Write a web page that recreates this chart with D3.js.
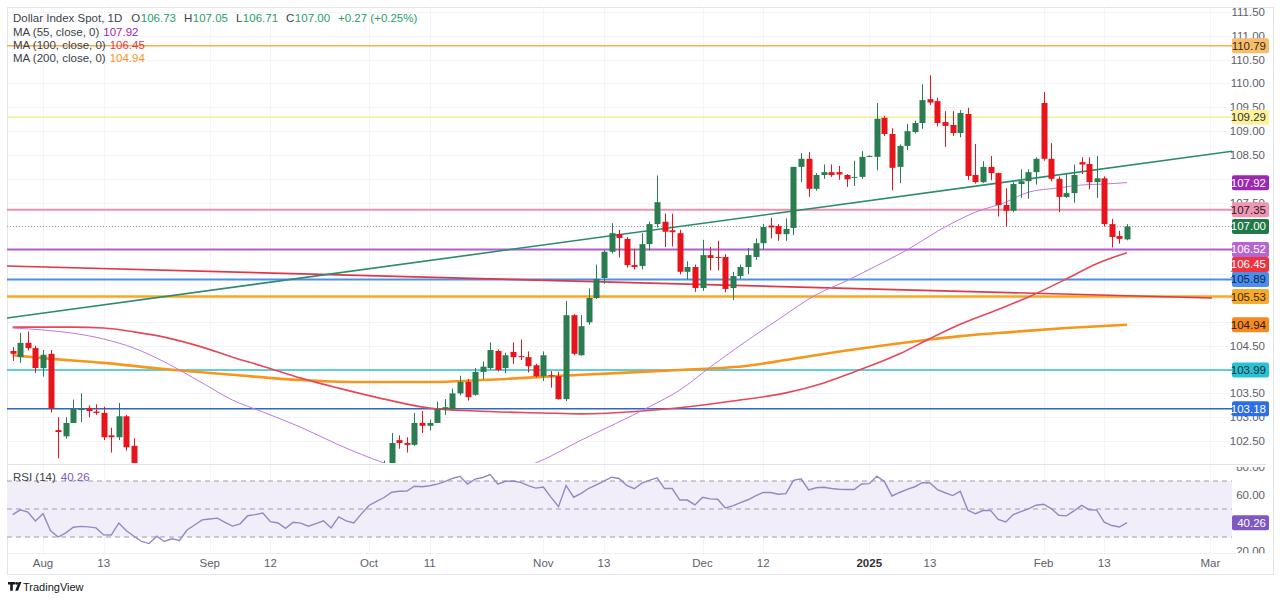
<!DOCTYPE html>
<html><head><meta charset="utf-8">
<script src="https://cdn.jsdelivr.net/npm/d3@7"></script>
<style>body{margin:0;background:#fff}svg{display:block;font-family:"Liberation Sans Narrow","Liberation Sans",sans-serif}</style>
</head><body><svg id="c" width="1280" height="600"></svg>
<script>
// ---------- DATA ----------
// daily candles [open, high, low, close], one per weekday from 2024-07-26 to 2025-02-18
const candles = [
[104.39,104.47,104.18,104.33],[104.26,104.77,104.14,104.56],[104.56,104.80,104.40,104.45],[104.45,104.50,103.93,104.03],
[104.03,104.41,103.85,104.31],[104.33,104.41,103.10,103.19],[102.73,103.00,102.14,102.69],[102.60,103.00,102.55,102.88],
[102.88,103.37,102.88,103.17],[103.15,103.50,102.90,103.18],[103.19,103.25,103.00,103.13],[103.12,103.27,103.05,103.09],
[103.09,103.22,102.52,102.58],[102.62,102.78,102.26,102.58],[102.58,103.30,102.52,103.02],[103.02,103.05,102.30,102.37],
[102.40,102.56,101.81,101.88],[101.88,101.95,101.30,101.43],[101.43,101.75,100.92,101.09],[101.09,101.60,101.05,101.50],
[101.50,101.55,100.60,100.68],[100.68,100.95,100.57,100.86],[100.86,100.94,100.44,100.54],[100.54,101.15,100.50,101.09],
[101.09,101.40,100.80,101.35],[101.35,101.75,101.24,101.70],[101.70,101.77,101.55,101.63],[101.63,101.90,101.60,101.84],
[101.84,101.86,101.27,101.35],[101.35,101.40,100.95,101.10],[101.10,101.40,100.68,101.18],[101.18,101.67,101.15,101.63],
[101.63,101.73,101.40,101.63],[101.63,101.83,101.24,101.68],[101.68,101.80,101.30,101.37],[101.37,101.50,100.94,101.11],
[101.11,101.15,100.70,100.76],[100.76,101.03,100.60,100.89],[100.89,101.00,100.21,100.60],[100.60,101.00,100.36,100.63],
[100.63,100.90,100.45,100.72],[100.72,101.07,100.60,100.85],[100.85,100.93,100.20,100.35],[100.35,101.00,100.30,100.90],
[100.90,100.93,100.38,100.53],[100.53,100.72,100.16,100.38],[100.38,100.90,100.16,100.78],[100.78,101.30,100.75,101.20],
[101.20,101.76,101.15,101.68],[101.68,102.09,101.60,101.99],[101.99,102.67,101.92,102.46],[102.52,102.62,102.34,102.46],
[102.46,102.58,102.26,102.42],[102.42,103.09,102.40,102.88],[102.88,103.13,102.67,102.82],[102.82,102.95,102.72,102.88],
[102.88,103.33,102.88,103.17],[103.17,103.38,103.05,103.21],[103.17,103.60,103.15,103.50],[103.50,103.87,103.46,103.74],
[103.74,103.80,103.35,103.42],[103.47,104.03,103.45,103.95],[103.95,104.17,103.80,104.06],[104.03,104.57,104.00,104.41],
[104.39,104.42,103.96,103.99],[104.03,104.35,103.92,104.30],[104.37,104.57,104.12,104.26],[104.28,104.63,104.20,104.26],
[104.26,104.38,103.94,104.07],[104.09,104.12,103.83,103.86],[103.86,104.38,103.76,104.30],[103.88,103.97,103.62,103.86],
[103.86,103.95,103.37,103.38],[103.38,105.44,103.34,105.14],[105.14,105.16,104.30,104.33],[104.30,105.14,104.29,104.91],
[104.99,105.70,104.94,105.50],[105.50,106.20,105.48,105.90],[105.92,106.51,105.80,106.47],[106.47,107.07,106.44,106.86],
[106.84,106.93,106.35,106.76],[106.74,106.78,106.14,106.19],[106.19,106.53,106.10,106.15],[106.17,106.86,106.10,106.63],
[106.63,107.10,106.50,107.05],[107.05,108.07,106.98,107.51],[107.10,107.27,106.57,106.89],[106.92,107.27,106.58,106.88],
[106.86,106.93,106.00,106.05],[106.05,106.27,105.89,106.15],[106.15,106.20,105.63,105.71],[105.71,106.72,105.65,106.40],
[106.40,106.57,106.08,106.34],[106.36,106.70,106.08,106.34],[106.36,106.42,105.62,105.69],[105.71,106.05,105.46,105.96],
[105.96,106.20,105.90,106.15],[106.15,106.55,106.00,106.40],[106.36,106.75,106.30,106.65],[106.65,107.05,106.52,106.99],
[107.02,107.18,106.75,106.98],[107.01,107.05,106.70,106.84],[106.84,107.17,106.70,106.95],[106.97,108.25,106.82,108.25],
[108.25,108.54,107.93,108.42],[108.42,108.56,107.62,107.79],[107.79,108.12,107.75,108.08],[108.08,108.30,108.00,108.14],
[108.14,108.30,108.04,108.08],[108.14,108.27,107.98,108.09],[108.08,108.10,107.83,107.99],[108.02,108.38,107.85,108.04],
[108.04,108.58,108.00,108.46],[108.48,108.49,108.47,108.48],[108.46,109.59,108.18,109.26],[109.28,109.32,108.90,108.94],
[108.94,109.06,107.76,108.23],[108.25,108.72,107.91,108.69],[108.69,109.15,108.60,109.00],[108.98,109.22,108.95,109.17],
[109.17,109.98,109.05,109.65],[109.67,110.17,109.55,109.60],[109.63,109.70,109.10,109.17],[109.19,109.42,108.67,109.11],
[109.13,109.42,108.90,108.96],[108.96,109.44,108.87,109.38],[109.36,109.49,107.98,108.06],[108.08,108.73,107.90,107.93],
[107.93,108.37,107.91,108.25],[108.25,108.48,107.97,108.12],[108.12,108.13,107.21,107.45],[107.45,107.80,107.00,107.33],
[107.33,107.93,107.30,107.89],[107.89,108.20,107.60,107.95],[107.95,108.20,107.58,108.14],[108.14,108.45,107.88,108.42],
[109.59,109.82,108.38,108.42],[108.42,108.75,107.95,108.00],[108.00,108.05,107.30,107.62],[107.62,108.10,107.60,107.70],
[107.70,108.30,107.50,108.08],[108.35,108.45,108.10,108.30],[108.31,108.45,107.78,107.93],[107.93,108.48,107.60,108.01],
[108.01,108.05,107.00,107.05],[107.05,107.16,106.56,106.78],[106.80,106.91,106.64,106.74],[106.73,107.05,106.71,107.00]
];
// RSI(14), one value per candle
const rsi = [46,49.4,47.8,41.5,46.6,34.4,30,33,37,37.6,37.2,36.5,31.5,31.4,40,34.5,30.5,26.8,25.3,30.6,
26.8,28.7,27.5,35,38.6,42.2,42.9,43.5,40.5,37.8,39.4,45.2,46,47.1,41,40,36.2,40.5,39.9,37.7,
39.6,41.6,36.5,44.4,41.5,40,46.5,52.5,55.4,58.2,62,62.7,62.8,66.3,65.9,66.6,67.8,69.5,71.8,73.3,
67.8,71.3,72.5,74.6,67.8,69.8,70,69,66.7,64.9,65.7,58.5,51.7,66.8,58.4,61.2,64.8,67.3,69.9,72.7,
71.8,66.8,64.5,68.5,70.5,72.3,64.6,64.6,56.4,56.4,52.9,58.3,57.2,57,50.8,52.2,54.5,56.6,59.3,61.8,
61.8,60.5,61,70.5,71.6,63.6,65.2,65.5,64.6,64.1,63.9,63.9,67.9,68.1,73.5,69.6,59.3,61.8,64,65.9,
68.8,68.6,63.8,61.6,59.6,62.6,49.2,46.6,48.9,49,42.5,40.7,46,48.1,50.1,52.7,53.4,50.3,45.5,45.1,
48.6,52.6,49.5,49.2,40.6,38.2,37.1,40.26];
// moving averages read at bar numbers [bar, value]
const ma55 = [[0,104.87],[4,104.83],[12,104.64],[16,104.45],[20,104.16],[25,103.72],[29,103.36],[33,103.11],[38,102.79],[43,102.42],[49,102.04],[55,101.75],[59,101.68],[63,101.78],[69,102.04],[75,102.52],[84,103.22],[88,103.57],[92,104.05],[97,104.62],[101,105.05],[106,105.57],[110,105.86],[114,106.18],[118,106.51],[122,106.9],[127,107.3],[131,107.51],[134,107.72],[138,107.81],[141,107.87],[144,107.89],[147,107.92]];
const ma100 = [[0,104.89],[8,104.89],[12,104.87],[16,104.79],[20,104.68],[25,104.47],[29,104.26],[33,104.07],[38,103.82],[43,103.61],[49,103.38],[55,103.19],[61,103.13],[70,103.09],[75,103.07],[83,103.13],[88,103.2],[95,103.34],[102,103.51],[107,103.72],[111,103.95],[117,104.33],[121,104.65],[125,104.95],[130,105.26],[134,105.52],[139,105.9],[143,106.22],[147,106.45]];
const ma200 = [[0,104.30],[4,104.24],[12,104.14],[20,104.01],[29,103.89],[38,103.78],[45,103.74],[55,103.74],[62,103.78],[75,103.89],[88,103.99],[97,104.08],[102,104.2],[110,104.4],[116,104.53],[121,104.63],[125,104.70],[132,104.79],[139,104.87],[147,104.94]];
const trendUp = [[-0.75,105.08],[160.9,108.58]];
const trendDown = [[-0.75,106.17],[158.2,105.50]];
const levelPrices = [110.79,109.29,107.35,106.52,105.89,105.53,103.99,103.18];
const lastClose = 107.00;
const maLast = [107.92,106.45,104.94];
const priceTicks = d3.range(102.5,111.51,0.5);
const rsiTicks = [80,60,20];
const rsiBands = [70,50,30];
const xTickLabels = ["Aug","13","Sep","12","Oct","11","Nov","13","Dec","12","2025","13","Feb","13","Mar"];
const xTickBars = [4,12,26,34,47,55,70,78,91,99,113,121,136,144,158];
const legendOHLC = [["O","106.73"],["H","107.05"],["L","106.71"],["C","107.00"]];
const legendChange = "+0.27 (+0.25%)";

// ---------- STYLES ----------
const UP="#2a7d50", DN="#e8141c";
const levelStyle = {
 110.79:{line:"#f5b04f",w:1.5,box:"#f7bd6e",txt:"#3a2a10"},
 109.29:{line:"#f4ef92",w:1.5,box:"#fdf29a",txt:"#333"},
 107.35:{line:"#ef8fb0",w:2,box:"#f096b5",txt:"#2a1a20"},
 106.52:{line:"#b45fcf",w:2,box:"#b566d3",txt:"#fff"},
 105.89:{line:"#4b8fe6",w:2,box:"#4a90ea",txt:"#10204a"},
 105.53:{line:"#f7a823",w:2.5,box:"#f8aa2a",txt:"#3a2a00"},
 103.99:{line:"#2cc0d0",w:1.5,box:"#28c2d4",txt:"#0a2f35"},
 103.18:{line:"#2f67c8",w:1.5,box:"#2d6ee6",txt:"#fff"}
};
const maStyle = [{c:"#bd78e0",w:1,box:"#9c27b0",txt:"#fff"},{c:"#e8475a",w:1.6,box:"#ee3340",txt:"#fff"},{c:"#f7961c",w:2.6,box:"#f78a1e",txt:"#2a1a00"}];

// ---------- LAYOUT ----------
const paneL=7, paneR=1232, mainT=7, mainB=463, rsiT=464, rsiB=555, axisR=1273, frameB=574;
const svg = d3.select("#c");
const x = d3.scaleLinear().domain([0,147]).range([12.7,1127]);
const y = d3.scaleLinear().domain([102.04,111.75]).range([463,0]);
const yr = d3.scaleLinear().domain([60,20]).range([495,551]);

const defs = svg.append("defs");
defs.append("clipPath").attr("id","cm").append("rect").attr("x",paneL).attr("y",mainT).attr("width",paneR-paneL).attr("height",mainB-mainT);
defs.append("clipPath").attr("id","cr").append("rect").attr("x",paneL).attr("y",rsiT).attr("width",paneR-paneL).attr("height",rsiB-rsiT);
defs.append("clipPath").attr("id","cra").append("rect").attr("x",paneR).attr("y",467).attr("width",axisR-paneR).attr("height",86);

// frame
svg.append("rect").attr("x",paneL+0.5).attr("y",mainT+0.5).attr("width",axisR-paneL).attr("height",frameB-mainT).attr("fill","#fff").attr("stroke","#e3e5ea");
// grid
const grid = svg.append("g").attr("stroke","#f3f4f7").attr("stroke-width",1);
grid.selectAll(".gh").data(priceTicks).join("line").attr("x1",paneL).attr("x2",paneR).attr("y1",d=>Math.round(y(d))+0.5).attr("y2",d=>Math.round(y(d))+0.5);
grid.selectAll(".gv").data(xTickBars).join("line").attr("y1",mainT).attr("y2",rsiB).attr("x1",d=>Math.round(x(d))+0.5).attr("x2",d=>Math.round(x(d))+0.5);
svg.append("line").attr("x1",paneL).attr("x2",1266).attr("y1",rsiT+0.5).attr("y2",rsiT+0.5).attr("stroke","#e0e3eb");
svg.append("line").attr("x1",paneL).attr("x2",1266).attr("y1",rsiB-1.5).attr("y2",rsiB-1.5).attr("stroke","#eef0f3");

// ---------- MAIN PANE ----------
const gm = svg.append("g").attr("clip-path","url(#cm)");
const lineK = d3.line().x(d=>x(d[0])).y(d=>y(d[1]));
levelPrices.forEach(p=>{
  const s=levelStyle[p];
  gm.append("line").attr("x1",paneL).attr("x2",paneR).attr("y1",y(p)).attr("y2",y(p)).attr("stroke",s.line).attr("stroke-width",s.w);
});
gm.append("line").attr("x1",paneL).attr("x2",paneR).attr("y1",y(lastClose)).attr("y2",y(lastClose)).attr("stroke","#9aa0a6").attr("stroke-width",1).attr("stroke-dasharray","1 2");
gm.append("path").datum(trendDown).attr("d",lineK).attr("stroke","#e0384a").attr("stroke-width",1.6).attr("fill","none");
gm.append("path").datum(trendUp).attr("d",lineK).attr("stroke","#2b8a72").attr("stroke-width",1.6).attr("fill","none");
const maCurve = d3.line().x(d=>x(d[0])).y(d=>y(d[1])).curve(d3.curveMonotoneX);
[ma200,ma100,ma55].forEach((m,i)=>{
  const s = maStyle[2-i];
  gm.append("path").datum(m).attr("d",maCurve).attr("stroke",s.c).attr("stroke-width",s.w).attr("fill","none");
});
const cg = gm.append("g");
candles.forEach((d,i)=>{
  const [o,h,l,c]=d; const col = c>=o?UP:DN; const cx=Math.round(x(i))+0.5;
  cg.append("line").attr("x1",cx).attr("x2",cx).attr("y1",y(h)).attr("y2",y(l)).attr("stroke",col).attr("stroke-width",1);
  const t=Math.min(y(o),y(c)), b=Math.max(y(o),y(c));
  cg.append("rect").attr("x",cx-3).attr("width",6).attr("y",t).attr("height",Math.max(1,b-t)).attr("fill",col);
});

// ---------- RSI PANE ----------
const gr = svg.append("g").attr("clip-path","url(#cr)");
gr.append("rect").attr("x",paneL).attr("width",paneR-paneL).attr("y",yr(rsiBands[0])).attr("height",yr(rsiBands[2])-yr(rsiBands[0])).attr("fill","#f1edf9");
rsiBands.forEach(v=>gr.append("line").attr("x1",paneL).attr("x2",paneR).attr("y1",yr(v)).attr("y2",yr(v)).attr("stroke","#9b9ea8").attr("stroke-dasharray","5 4").attr("stroke-width",1));
gr.append("path").datum(rsi).attr("d",d3.line().x((d,i)=>x(i)).y(d=>yr(d))).attr("stroke","#9488c4").attr("stroke-width",1.4).attr("fill","none");

// ---------- AXES ----------
const fs = 11.5, axCol="#5d606b";
const boxes = [];
levelPrices.forEach(p=>{const s=levelStyle[p];boxes.push({v:p,box:s.box,txt:s.txt});});
boxes.push({v:lastClose,box:"#1f7a48",txt:"#fff"});
maLast.forEach((v,i)=>boxes.push({v,box:maStyle[i].box,txt:maStyle[i].txt}));
boxes.forEach(b=>b.y=y(b.v));
boxes.sort((a,b)=>a.y-b.y);
for(let i=1;i<boxes.length;i++){ if(boxes[i].y<boxes[i-1].y+15) boxes[i].y=boxes[i-1].y+15; }
// tick labels that would sit fully under a price label are not drawn
const shownTicks = priceTicks.filter(t=>!boxes.some(b=>Math.abs(b.y-y(t))<4.5));
const ax = svg.append("g").attr("font-size",fs).attr("fill",axCol);
ax.selectAll(".pt").data(shownTicks).join("text").attr("x",1265).attr("y",d=>y(d)+4).attr("text-anchor","end").text(d=>d.toFixed(2));
svg.append("g").attr("clip-path","url(#cra)").attr("font-size",fs).attr("fill",axCol)
  .selectAll("text").data(rsiTicks).join("text").attr("x",1265).attr("y",d=>yr(d)+4).attr("text-anchor","end").text(d=>d.toFixed(2));
ax.selectAll(".xt").data(xTickLabels).join("text").attr("x",(d,i)=>x(xTickBars[i])).attr("y",567).attr("text-anchor","middle")
  .attr("font-weight",d=>d==="2025"?"bold":null).attr("fill",d=>d==="2025"?"#333":axCol).text(d=>d);

const bl = svg.append("g").attr("font-size",fs);
boxes.forEach(b=>{
  bl.append("rect").attr("x",paneR).attr("y",b.y-7.5).attr("width",37).attr("height",15).attr("rx",2).attr("fill",b.box);
  bl.append("text").attr("x",1266).attr("y",b.y+4).attr("text-anchor","end").attr("fill",b.txt).text(b.v.toFixed(2));
});
const rl = rsi[rsi.length-1];
bl.append("rect").attr("x",paneR).attr("y",yr(rl)-7.5).attr("width",37).attr("height",15).attr("rx",2).attr("fill","#7e57c2");
bl.append("text").attr("x",1266).attr("y",yr(rl)+4).attr("text-anchor","end").attr("fill","#fff").text(rl.toFixed(2));

// ---------- LEGEND ----------
const lg = svg.append("g").attr("font-size",11.5);
function row(parts, yy){
  let xx=13;
  parts.forEach(([t,col,gap])=>{
    const el = lg.append("text").attr("x",xx).attr("y",yy).attr("fill",col).text(t);
    xx += el.node().getComputedTextLength() + (gap||0);
  });
}
const TXT="#3b3f4a", GRN="#2a9d68";
const r1 = [["Dollar Index Spot, 1D",TXT,9]];
legendOHLC.forEach(([k,v])=>{r1.push([k,TXT,0.5]);r1.push([v,GRN,8]);});
r1.push([legendChange,GRN,0]);
row(r1,22);
row([["MA (55, close, 0)",TXT,4],[maLast[0].toFixed(2),"#9c27b0",0]],36);
row([["MA (100, close, 0)",TXT,4],[maLast[1].toFixed(2),"#ee3340",0]],49);
row([["MA (200, close, 0)",TXT,4],[maLast[2].toFixed(2),"#f7961c",0]],62);
row([["RSI (14)",TXT,5],[rl.toFixed(2),"#7e57c2",0]],481);

// logo
const lo = svg.append("g");
lo.append("path").attr("d","M8,582h7v2.6h-2.2v6.2h-2.6v-6.2H8z").attr("fill","#131722");
lo.append("circle").attr("cx",16.6).attr("cy",583.4).attr("r",1.4).attr("fill","#131722");
lo.append("path").attr("d","M18.6,582h2.8l-3.4,8.8h-2.8z").attr("fill","#131722");
lo.append("text").attr("x",23).attr("y",590.5).attr("font-size",11).attr("fill","#131722").text("TradingView");
</script></body></html>
